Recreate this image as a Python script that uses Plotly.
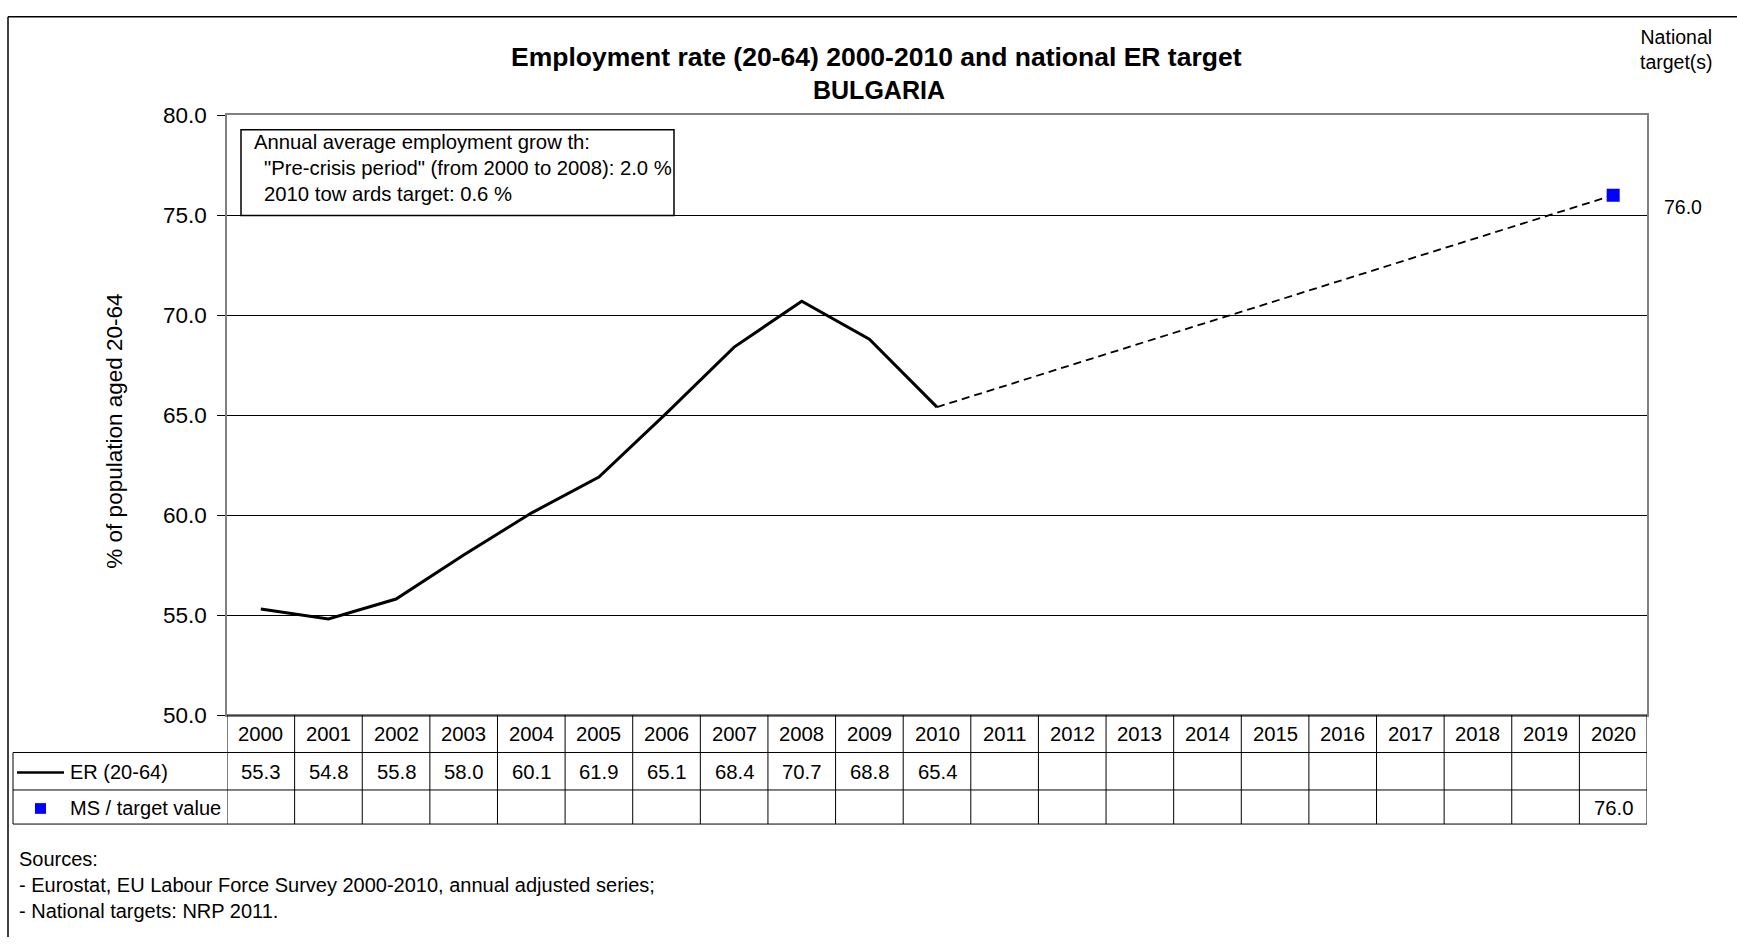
import plotly.graph_objects as go

# ---- data ----
years = list(range(2000, 2021))
er_years = list(range(2000, 2011))
er_values = [55.3, 54.8, 55.8, 58.0, 60.1, 61.9, 65.1, 68.4, 70.7, 68.8, 65.4]
target_year = 2020
target_value = 76.0
y_ticks = [50.0, 55.0, 60.0, 65.0, 70.0, 75.0, 80.0]

title_line1 = "Employment rate (20-64) 2000-2010 and national ER target"
title_line2 = "BULGARIA"
growth_lines = [
    "Annual average employment grow th:",
    "\"Pre-crisis period\" (from 2000 to 2008): 2.0 %",
    "2010 tow ards target: 0.6 %",
]
source_lines = [
    "Sources:",
    "- Eurostat, EU Labour Force Survey 2000-2010, annual adjusted series;",
    "- National targets: NRP 2011.",
]

# ---- page geometry (pixels) ----
W, H = 1737, 950
FONT = "Liberation Sans, Arial, sans-serif"


def px(x):
    return x / W


def py(y):
    # y is measured in pixels from the top of the page
    return 1 - y / H


plot_left, plot_right = 227, 1647
plot_top, plot_bottom = 106, 722
row_year_bot, row_er_bot, row_tg_bot = 760.5, 799, 834
legend_left = 13

fig = go.Figure()

# ER series
fig.add_trace(go.Scatter(
    x=er_years, y=er_values, mode="lines",
    line=dict(color="black", width=3), hoverinfo="skip", showlegend=False,
))
# path from last observation to the national target
fig.add_trace(go.Scatter(
    x=[er_years[-1], target_year], y=[er_values[-1], target_value], mode="lines",
    line=dict(color="black", width=1.8, dash="8px,5px"), hoverinfo="skip", showlegend=False,
))
# target marker
fig.add_trace(go.Scatter(
    x=[target_year], y=[target_value], mode="markers",
    marker=dict(symbol="square", size=13, color="#0000ff", line=dict(width=0)),
    hoverinfo="skip", showlegend=False,
))

shapes = []
annotations = []

# outer frame (left and top edges)
shapes.append(dict(type="line", xref="paper", yref="paper", x0=px(8), x1=px(8), y0=py(5), y1=0,
                   line=dict(color="black", width=1.5)))
shapes.append(dict(type="line", xref="paper", yref="paper", x0=px(8), x1=1, y0=py(5), y1=py(5),
                   line=dict(color="black", width=1.5)))

# table: horizontal rules
shapes.append(dict(type="line", xref="paper", yref="paper", x0=px(plot_left), x1=px(plot_right),
                   y0=py(plot_bottom), y1=py(plot_bottom), line=dict(color="black", width=1.2)))
for yy in (row_year_bot, row_er_bot, row_tg_bot):
    shapes.append(dict(type="line", xref="paper", yref="paper", x0=px(legend_left), x1=px(plot_right),
                       y0=py(yy), y1=py(yy), line=dict(color="black", width=1)))
# table: vertical rules at the column boundaries
bounds = [y - 0.5 for y in years] + [years[-1] + 0.5]
for b in bounds:
    shapes.append(dict(type="line", xref="x", yref="paper", x0=b, x1=b,
                       y0=py(plot_bottom), y1=py(row_tg_bot), line=dict(color="black", width=1)))
shapes.append(dict(type="line", xref="paper", yref="paper", x0=px(legend_left), x1=px(legend_left),
                   y0=py(row_year_bot), y1=py(row_tg_bot), line=dict(color="black", width=1)))

# table legend keys
shapes.append(dict(type="line", xref="paper", yref="paper", x0=px(17), x1=px(64),
                   y0=py(781), y1=py(781), line=dict(color="black", width=2.5)))
shapes.append(dict(type="rect", xref="paper", yref="paper", x0=px(35), x1=px(46),
                   y0=py(812.5), y1=py(823.5), fillcolor="#0000ff", line=dict(width=0)))

label_font = dict(family=FONT, size=20, color="black")
cell_font = dict(family=FONT, size=20.3, color="black")
annotations.append(dict(text="ER (20-64)", xref="paper", yref="paper", x=px(68), y=py(781),
                        xanchor="left", yanchor="middle", showarrow=False, font=label_font))
annotations.append(dict(text="MS / target value", xref="paper", yref="paper", x=px(68), y=py(818),
                        xanchor="left", yanchor="middle", showarrow=False, font=label_font))

# table cells
for yr in years:
    annotations.append(dict(text=str(yr), xref="x", yref="paper", x=yr, y=py(741),
                            xanchor="center", yanchor="middle", showarrow=False, font=cell_font))
for yr, v in zip(er_years, er_values):
    annotations.append(dict(text=f"{v:.1f}", xref="x", yref="paper", x=yr, y=py(781),
                            xanchor="center", yanchor="middle", showarrow=False, font=cell_font))
annotations.append(dict(text=f"{target_value:.1f}", xref="x", yref="paper", x=target_year, y=py(818),
                        xanchor="center", yanchor="middle", showarrow=False, font=cell_font))

# titles
annotations.append(dict(text=f"<b>{title_line1}</b>", xref="paper", yref="paper", x=px(876), y=py(46),
                        xanchor="center", yanchor="middle", showarrow=False,
                        font=dict(family=FONT, size=26.5, color="black")))
annotations.append(dict(text=f"<b>{title_line2}</b>", xref="paper", yref="paper", x=px(879), y=py(80),
                        xanchor="center", yanchor="middle", showarrow=False,
                        font=dict(family=FONT, size=25, color="black")))

# y-axis title
annotations.append(dict(text="% of population aged 20-64", xref="paper", yref="paper", x=px(115), y=py(431),
                        xanchor="center", yanchor="middle", textangle=-90, showarrow=False,
                        font=dict(family=FONT, size=22.5, color="black")))

# growth box
shapes.append(dict(type="rect", xref="paper", yref="paper", x0=px(241), x1=px(674), y0=py(121), y1=py(209),
                   line=dict(color="black", width=1.5), fillcolor="white", layer="above"))
box_font = dict(family=FONT, size=20.3, color="black")
for i, (txt, x0) in enumerate(zip(growth_lines, (252, 262, 262))):
    annotations.append(dict(text=txt, xref="paper", yref="paper", x=px(x0), y=py(134 + i * 26.5),
                            xanchor="left", yanchor="middle", showarrow=False, font=box_font))

# national target labels on the right
side_font = dict(family=FONT, size=19.5, color="black")
annotations.append(dict(text="National<br>target(s)", xref="paper", yref="paper", x=px(1676), y=py(38),
                        xanchor="center", yanchor="middle", showarrow=False, font=side_font))
annotations.append(dict(text=f"{target_value:.1f}", xref="paper", yref="paper", x=px(1683), y=py(200),
                        xanchor="center", yanchor="middle", showarrow=False, font=side_font))

# sources
src_font = dict(family=FONT, size=20, color="black")
for i, txt in enumerate(source_lines):
    annotations.append(dict(text=txt, xref="paper", yref="paper", x=px(17), y=py(870 + i * 26.5),
                            xanchor="left", yanchor="middle", showarrow=False, font=src_font))

fig.update_layout(
    width=W, height=H, autosize=False,
    margin=dict(l=0, r=0, t=0, b=0),
    paper_bgcolor="white", plot_bgcolor="white",
    shapes=shapes, annotations=annotations,
    xaxis=dict(domain=[px(plot_left), px(plot_right)], range=[years[0] - 0.5, years[-1] + 0.5],
               showgrid=False, zeroline=False, showticklabels=False, ticks="",
               showline=True, linecolor="#808080", linewidth=1.5, mirror=True, fixedrange=True),
    yaxis=dict(domain=[py(plot_bottom), py(plot_top)], range=[50, 80], tickvals=y_ticks,
               ticktext=[f"{v:.1f}" for v in y_ticks], ticks="outside", ticklen=8, tickcolor="black",
               tickfont=dict(family=FONT, size=22.5, color="black"), ticklabelstandoff=6,
               showgrid=True, gridcolor="black", gridwidth=1, zeroline=False,
               showline=True, linecolor="#808080", linewidth=1.5, mirror=True, fixedrange=True),
)

fig.write_html("out.html")
